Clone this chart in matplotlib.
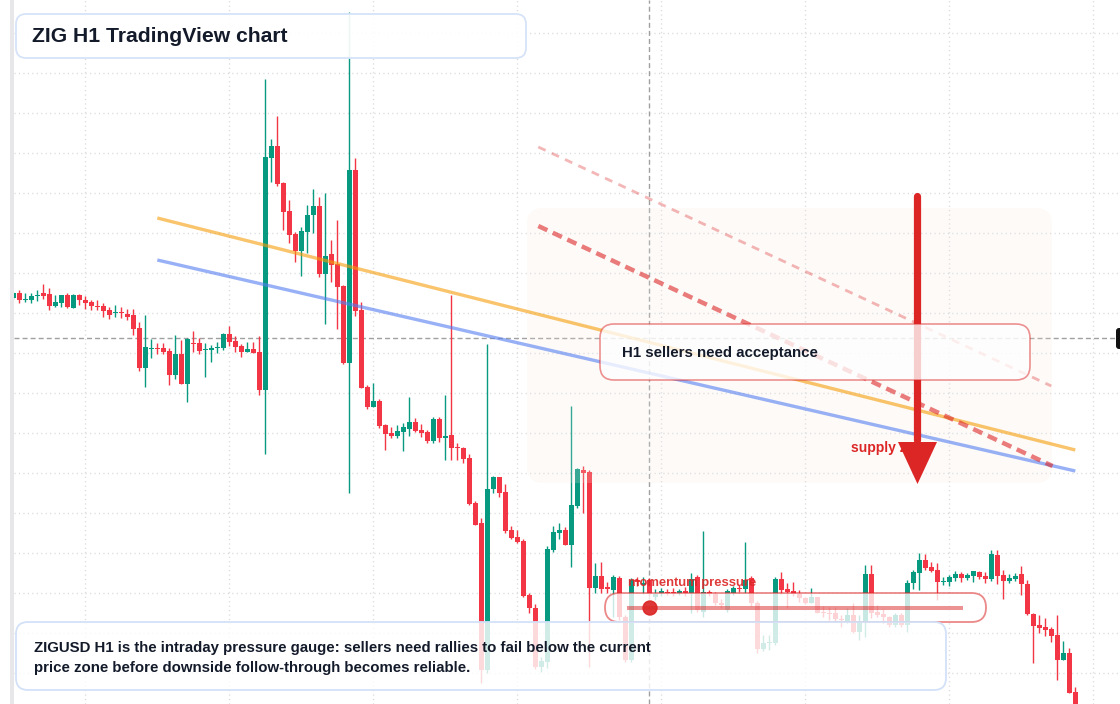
import matplotlib
matplotlib.use("Agg")
import matplotlib.pyplot as plt
from matplotlib.patches import FancyBboxPatch, Rectangle, Circle, Polygon
from matplotlib.transforms import Affine2D

plt.rcParams['font.family'] = ['Liberation Sans', 'DejaVu Sans']

W, H = 1120, 704

# ZIG H1 candles, oldest first (price in chart units, no axis labels shown)
opens = [415, 420, 413, 413, 417, 420, 419, 407, 410, 418,
         405, 418, 413, 411, 407, 407, 403, 400, 401, 399,
         398, 385, 345, 364, 365, 365, 362, 338, 359, 329,
         370, 370, 363, 363, 365, 365, 379, 372, 367, 361,
         364, 361, 323, 555, 567, 530, 502, 479, 462, 481,
         498, 507, 439, 459, 449, 427, 350, 543, 403, 326,
         306, 312, 288, 280, 277, 281, 284, 291, 283, 281,
         272, 294, 275, 278, 266, 265, 255, 210, 190, 43,
         224, 236, 221, 183, 176, 172, 118, 105, 46, 51,
         163, 180, 183, 168, 207, 243, 241, 125, 137, 126,
         123, 135, 96, 53, 133, 128, 133, 116, 120, 121,
         121, 120, 122, 120, 136, 101, 121, 119, 110, 103,
         120, 125, 124, 135, 110, 64, 70, 70, 134, 124,
         122, 119, 115, 110, 116, 101, 100, 100, 94, 91,
         98, 81, 91, 139, 101, 99, 96, 88, 98, 88,
         130, 140, 153, 146, 143, 131, 131, 135, 139, 135,
         137, 141, 137, 134, 158, 138, 132, 134, 139, 129,
         99, 88, 86, 84, 78, 53, 60, 21]
highs = [421, 423, 420, 420, 423, 429, 425, 418, 418, 420,
         419, 419, 417, 413, 413, 410, 406, 408, 406, 404,
         404, 391, 398, 374, 370, 370, 365, 378, 373, 375,
         382, 375, 370, 368, 371, 380, 387, 377, 369, 371,
         371, 377, 634, 574, 597, 531, 513, 481, 486, 508,
         524, 516, 520, 473, 493, 428, 701, 555, 411, 328,
         330, 314, 289, 286, 288, 290, 316, 295, 289, 283,
         296, 296, 318, 418, 270, 266, 259, 212, 195, 369,
         237, 236, 229, 187, 183, 174, 120, 109, 56, 167,
         187, 190, 186, 307, 245, 247, 243, 150, 151, 131,
         138, 137, 98, 135, 136, 136, 135, 124, 125, 124,
         125, 124, 126, 140, 138, 182, 123, 121, 114, 124,
         127, 128, 171, 137, 112, 78, 78, 136, 141, 130,
         131, 123, 116, 125, 116, 107, 106, 106, 98, 105,
         110, 98, 148, 148, 108, 104, 97, 100, 100, 133,
         143, 160, 159, 151, 150, 136, 138, 142, 141, 140,
         142, 142, 141, 163, 163, 143, 139, 140, 147, 133,
         100, 98, 95, 86, 98, 72, 65, 26]
lows = [414, 410, 411, 410, 412, 414, 403, 406, 406, 405,
        405, 408, 404, 403, 403, 396, 394, 396, 395, 393,
        378, 342, 326, 355, 359, 359, 328, 334, 329, 311,
        361, 359, 336, 351, 360, 363, 367, 361, 356, 361,
        360, 318, 259, 531, 527, 483, 470, 451, 437, 460,
        480, 436, 389, 431, 384, 349, 220, 397, 325, 304,
        306, 285, 263, 275, 275, 262, 277, 281, 276, 270,
        270, 271, 253, 253, 253, 250, 208, 188, 30, 40,
        220, 216, 180, 174, 170, 116, 100, 44, 41, 45,
        161, 174, 168, 146, 205, 200, 46, 120, 120, 120,
        96, 93, 51, 51, 127, 119, 118, 113, 117, 118,
        117, 118, 117, 100, 101, 96, 117, 108, 105, 101,
        118, 121, 120, 107, 60, 62, 63, 68, 119, 105,
        117, 111, 109, 110, 100, 96, 93, 92, 86, 90,
        80, 73, 76, 95, 96, 90, 86, 86, 86, 81,
        124, 123, 143, 141, 113, 128, 127, 132, 131, 133,
        131, 134, 130, 132, 129, 114, 130, 132, 118, 98,
        50, 80, 77, 71, 33, 53, 20, -10]
closes = [420, 413, 414, 417, 418, 417, 407, 411, 418, 406,
          418, 413, 410, 407, 406, 402, 398, 401, 400, 396,
          384, 345, 366, 365, 364, 361, 338, 359, 329, 374,
          369, 362, 364, 365, 366, 379, 371, 366, 361, 364,
          360, 323, 556, 567, 529, 501, 478, 462, 482, 498,
          507, 439, 457, 448, 426, 350, 543, 402, 325, 306,
          312, 287, 279, 277, 282, 286, 291, 282, 280, 272,
          294, 275, 277, 265, 265, 254, 209, 188, 43, 224,
          236, 220, 182, 175, 171, 117, 105, 46, 52, 164,
          181, 183, 168, 208, 244, 240, 125, 137, 124, 124,
          136, 96, 53, 133, 131, 130, 119, 119, 122, 120,
          120, 122, 120, 134, 103, 121, 119, 110, 108, 122,
          125, 124, 133, 110, 64, 70, 71, 134, 123, 121,
          119, 115, 110, 116, 100, 100, 99, 94, 93, 98,
          81, 91, 139, 100, 98, 96, 88, 98, 88, 130,
          141, 153, 145, 142, 131, 132, 136, 139, 135, 138,
          142, 136, 134, 159, 137, 132, 135, 137, 129, 99,
          87, 85, 83, 77, 53, 60, 20, -5]

# drawn overlays: [start bar, start price, end bar, end price]
orange_trend = [24, 495, 177, 263]
blue_trend = [24, 453, 177, 242]
channel_main = [87.5, 487, 173.2, 247]
channel_upper = [87.5, 566, 173.0, 327]
cross_bar, cross_price = 106, 375
arrow_bar, arrow_top, arrow_head_base, arrow_tip = 150.7, 517, 271, 229

GREEN = '#089981'
RED = '#f23645'
INK = '#131a2a'
ALERT = '#dc2626'

fig = plt.figure(figsize=(W / 100, H / 100), dpi=100)
ax = fig.add_axes([14 / W, 0, 1 - 14 / W, 1])
px = Affine2D().scale(1 / W, -1 / H).translate(0, 1) + fig.transFigure

# grid and crosshair
ax.set_xticks(range(12, 185, 24))
ax.set_yticks(range(40, 700, 40))
ax.grid(True, color='#d6d9de', linestyle=(0, (0.8, 2.4)), linewidth=1)
ax.tick_params(length=0, labelbottom=False, labelleft=False)
for s in ax.spines.values():
    s.set_visible(False)
ax.axhline(cross_price, color='#a0a0a0', lw=1, dashes=(3.6, 2.2), zorder=1.5)
ax.axvline(cross_bar, color='#a0a0a0', lw=1, dashes=(3.6, 2.2), zorder=1.5)

# candles
idx = list(range(len(opens)))
cols = [GREEN if c >= o else RED for o, c in zip(opens, closes)]
bottoms = [min(o, c) for o, c in zip(opens, closes)]
heights = [max(abs(c - o), 1.3) for o, c in zip(opens, closes)]
ax.vlines(idx, lows, highs, colors=cols, linewidth=1, zorder=2)
ax.bar(idx, heights, bottom=bottoms, width=0.78, color=cols, linewidth=0, zorder=2.1)

ax.set_xlim(0.117, 184.45)
ax.set_ylim(9, 713)

# supply zone
ax.add_patch(FancyBboxPatch((527, 208), 525, 275, boxstyle='round,pad=0,rounding_size=16',
                            transform=px, facecolor=(0.96, 0.91, 0.87, 0.2), edgecolor='none', zorder=3))

# trend lines and channel
ax.plot(orange_trend[::2], orange_trend[1::2], color=(0.96, 0.62, 0.04, 0.6), lw=2.4,
        solid_capstyle='butt', zorder=4)
ax.plot(blue_trend[::2], blue_trend[1::2], color=(0.33, 0.49, 0.94, 0.6), lw=2.4,
        solid_capstyle='butt', zorder=4)
ax.plot(channel_main[::2], channel_main[1::2], color=(0.863, 0.149, 0.149, 0.6), lw=3.2,
        dashes=(2.25, 1.35), zorder=4)
ax.plot(channel_upper[::2], channel_upper[1::2], color=(0.863, 0.149, 0.149, 0.33), lw=2.0,
        dashes=(2.9, 2.4), zorder=4)

ax.text(851, 448, 'supply zone', transform=px, color=ALERT, fontsize=10, fontweight='bold',
        va='center', ha='left', zorder=4.5)

# arrow
ax.plot([arrow_bar, arrow_bar], [arrow_top, arrow_head_base + 2], color=ALERT, lw=5.2,
        solid_capstyle='round', zorder=5)
ax.add_patch(Polygon([(arrow_bar - 3.25, arrow_head_base), (arrow_bar + 3.25, arrow_head_base),
                      (arrow_bar, arrow_tip)], closed=True, color=ALERT, lw=0, zorder=5))

# callout
ax.add_patch(FancyBboxPatch((600, 324), 430, 56, boxstyle='round,pad=0,rounding_size=14',
                            transform=px, facecolor=(1, 1, 1, 0.78),
                            edgecolor=(0.863, 0.149, 0.149, 0.5), lw=1.2, zorder=6))
ax.text(622, 353, 'H1 sellers need acceptance', transform=px, color=INK, fontsize=10.8,
        fontweight='bold', va='center', ha='left', zorder=7)

# momentum gauge
ax.add_patch(FancyBboxPatch((605, 593), 381, 29, boxstyle='round,pad=0,rounding_size=14.5',
                            transform=px, facecolor=(1, 1, 1, 0.78),
                            edgecolor=(0.863, 0.149, 0.149, 0.55), lw=1.3, zorder=6))
ax.plot([627, 963], [608, 608], transform=px, color=(0.863, 0.149, 0.149, 0.5), lw=2.9,
        solid_capstyle='butt', zorder=7)
ax.add_patch(Circle((650, 608), 7, transform=px, color=ALERT, alpha=0.92, zorder=7.5))
ax.text(628, 583, 'momentum pressure', transform=px, color=ALERT, alpha=0.9, fontsize=9.4,
        fontweight='bold', va='center', ha='left', zorder=7)

# bottom note
ax.add_patch(FancyBboxPatch((16, 622), 930, 68, boxstyle='round,pad=0,rounding_size=12',
                            transform=px, facecolor=(1, 1, 1, 0.82), edgecolor='#d3e1f8',
                            lw=1.3, zorder=6))
ax.text(34, 648, 'ZIGUSD H1 is the intraday pressure gauge: sellers need rallies to fail below the current',
        transform=px, color=INK, fontsize=10.8, fontweight='bold', va='center', ha='left', zorder=7)
ax.text(34, 668, 'price zone before downside follow-through becomes reliable.',
        transform=px, color=INK, fontsize=10.8, fontweight='bold', va='center', ha='left', zorder=7)

# title
ax.add_patch(FancyBboxPatch((16, 14), 510, 44, boxstyle='round,pad=0,rounding_size=10',
                            transform=px, facecolor=(1, 1, 1, 0.93), edgecolor='#d6e3f8',
                            lw=1.3, zorder=6))
ax.text(32, 36, 'ZIG H1 TradingView chart', transform=px, color=INK, fontsize=15.2,
        fontweight='bold', va='center', ha='left', zorder=7)

# left strip and price label stub
fig.add_artist(Rectangle((10, 0), 4, H, transform=px, color='#e7e7e9', lw=0))
fig.add_artist(FancyBboxPatch((1116, 328), 14, 21, boxstyle='round,pad=0,rounding_size=3',
                              transform=px, color='#111111', lw=0, zorder=8))

fig.savefig('out.png', dpi=100)
